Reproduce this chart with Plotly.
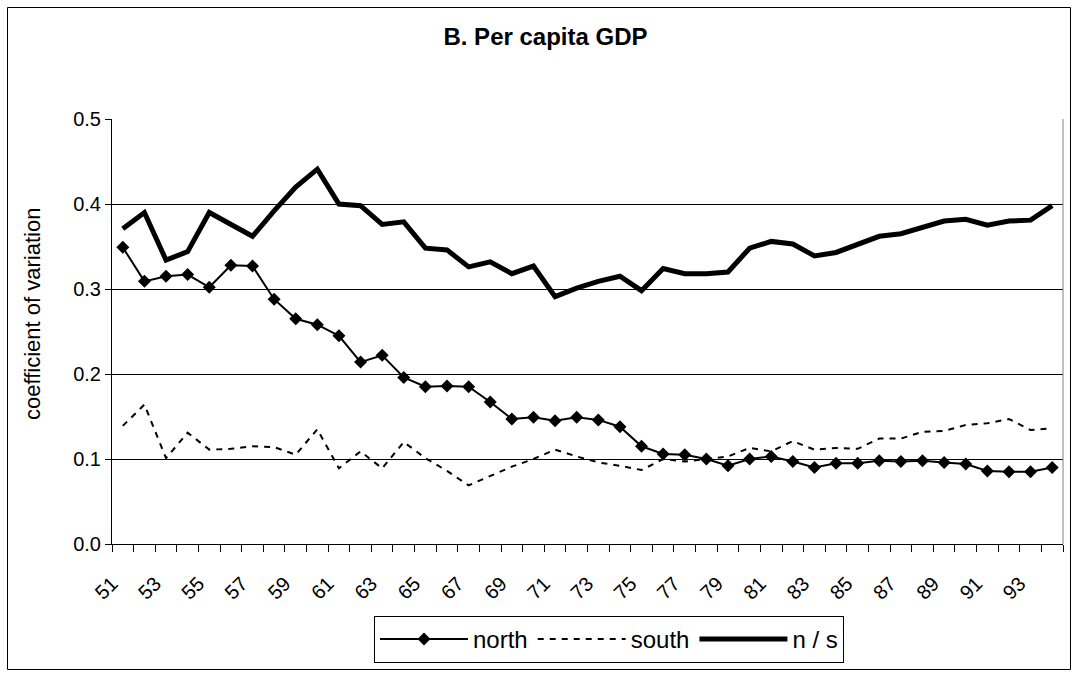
import plotly.graph_objects as go

years = ["51", "52", "53", "54", "55", "56", "57", "58", "59", "60",
         "61", "62", "63", "64", "65", "66", "67", "68", "69", "70",
         "71", "72", "73", "74", "75", "76", "77", "78", "79", "80",
         "81", "82", "83", "84", "85", "86", "87", "88", "89", "90",
         "91", "92", "93", "94"]

north = [0.349, 0.309, 0.315, 0.317, 0.302, 0.328, 0.327, 0.288, 0.265, 0.258,
         0.245, 0.214, 0.222, 0.196, 0.185, 0.186, 0.185, 0.167, 0.147, 0.149,
         0.145, 0.149, 0.146, 0.138, 0.115, 0.106, 0.105, 0.100, 0.092, 0.100,
         0.103, 0.097, 0.090, 0.095, 0.095, 0.098, 0.097, 0.098, 0.096, 0.094,
         0.086, 0.085, 0.085, 0.090]

south = [0.139, 0.164, 0.101, 0.131, 0.111, 0.112, 0.115, 0.114, 0.105, 0.135,
         0.089, 0.109, 0.089, 0.120, 0.101, 0.086, 0.069, 0.080, 0.091, 0.100,
         0.111, 0.103, 0.096, 0.092, 0.087, 0.100, 0.097, 0.100, 0.103, 0.113,
         0.109, 0.121, 0.111, 0.113, 0.112, 0.124, 0.124, 0.132, 0.133, 0.140,
         0.142, 0.147, 0.134, 0.136]

ns = [0.371, 0.390, 0.334, 0.344, 0.390, 0.376, 0.362, 0.392, 0.420, 0.441,
      0.400, 0.398, 0.376, 0.379, 0.348, 0.346, 0.326, 0.332, 0.318, 0.327,
      0.291, 0.301, 0.309, 0.315, 0.298, 0.324, 0.318, 0.318, 0.320, 0.348,
      0.356, 0.353, 0.339, 0.343, 0.352, 0.362, 0.365, 0.373, 0.380, 0.382,
      0.375, 0.380, 0.381, 0.398]

series_names = ["north", "south", "n / s"]
y_title = "coefficient of variation"
chart_title = "B. Per capita GDP"

FONT = "Liberation Sans, Arial, sans-serif"
W, H = 1074, 677
L, R, T, B = 112, 11, 119, 133
PW, PH = W - L - R, H - T - B

idx = list(range(len(years)))

fig = go.Figure()
fig.add_trace(go.Scatter(x=idx, y=north, name=series_names[0], mode="lines+markers",
                         line=dict(color="black", width=2),
                         marker=dict(symbol="diamond", size=10, color="black")))
fig.add_trace(go.Scatter(x=idx, y=south, name=series_names[1], mode="lines",
                         line=dict(color="black", width=2, dash="6px,6px")))
fig.add_trace(go.Scatter(x=idx, y=ns, name=series_names[2], mode="lines",
                         line=dict(color="black", width=5)))

def px_x(p):
    return (p - L) / PW

def px_y(p):
    return (H - B - p) / PH

fig.update_layout(
    width=W, height=H,
    margin=dict(l=L, r=R, t=T, b=B, autoexpand=False),
    paper_bgcolor="white", plot_bgcolor="white",
    font=dict(family=FONT, color="black", size=20),
    title=dict(text=chart_title, font=dict(size=24, weight="bold", family=FONT),
               xref="container", yref="container", x=545.5 / W, y=1 - 37 / H,
               xanchor="center", yanchor="middle"),
    showlegend=True,
    legend=dict(orientation="h", x=px_x(374), y=px_y(616), xanchor="left", yanchor="top",
                bordercolor="black", borderwidth=1, font=dict(size=24, family=FONT),
                itemwidth=88, tracegroupgap=0, bgcolor="white"),
    xaxis=dict(range=[-0.5, len(years) - 0.5], showgrid=False, zeroline=False,
               showline=True, linecolor="black", linewidth=1,
               tickmode="array", tickvals=[i - 0.5 for i in idx[::2]], ticktext=years[::2],
               ticks="outside", ticklen=7, tickcolor="black", tickangle=-45,
               ticklabelstandoff=12, tickfont=dict(size=20),
               minor=dict(tickvals=[i - 0.5 for i in idx] + [len(years) - 0.5],
                          ticks="outside", ticklen=7, tickcolor="black", showgrid=False)),
    yaxis=dict(range=[0, 0.5], dtick=0.1, tick0=0, tickformat=".1f",
               showgrid=True, gridcolor="black", gridwidth=1, zeroline=False,
               showline=True, linecolor="black", linewidth=1,
               ticks="outside", ticklen=6, tickcolor="black", tickfont=dict(size=20)),
    annotations=[dict(text=y_title, textangle=-90, xref="paper", yref="paper",
                      x=px_x(32), y=px_y(314), xanchor="center", yanchor="middle",
                      showarrow=False, font=dict(size=22, family=FONT))],
    shapes=[
        dict(type="line", xref="paper", yref="paper", x0=1, x1=1, y0=0, y1=1,
             line=dict(color="#808080", width=1), layer="above"),
        dict(type="rect", xref="paper", yref="paper",
             x0=px_x(7.5), x1=px_x(1070.5), y0=px_y(669.5), y1=px_y(7.5),
             line=dict(color="black", width=1), layer="below"),
    ],
)

fig.write_html("out.html", include_plotlyjs=True,
               config={"displayModeBar": False},
               post_script="document.body.style.margin='0';document.body.style.overflow='hidden';")
